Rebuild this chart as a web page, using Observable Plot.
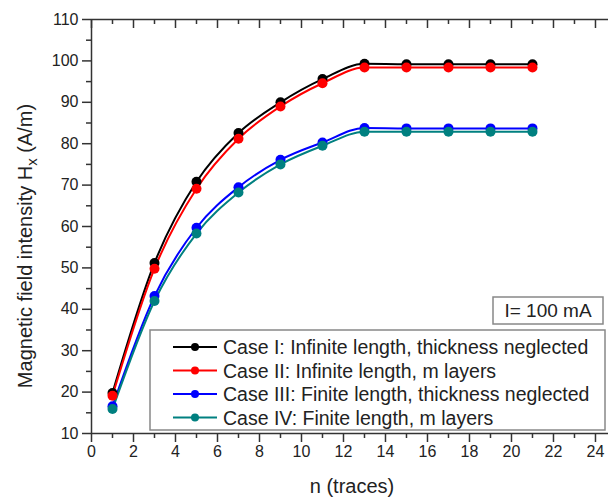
<!DOCTYPE html>
<html><head><meta charset="utf-8">
<script src="https://cdn.jsdelivr.net/npm/d3@7"></script>
<script src="https://cdn.jsdelivr.net/npm/@observablehq/plot@0.6"></script>
<style>body{margin:0;background:#fff} svg{display:block}</style>
</head><body><div id="chart"></div>
<script>
const nTraces = [1, 3, 5, 7, 9, 11, 13, 15, 17, 19, 21];
const case1 = [19.8, 51.2, 70.8, 82.6, 90.0, 95.6, 99.3, 99.2, 99.2, 99.2, 99.2];
const case2 = [19.1, 49.8, 69.1, 81.2, 89.0, 94.6, 98.4, 98.4, 98.4, 98.4, 98.4];
const case3 = [16.6, 43.2, 59.7, 69.5, 76.1, 80.3, 83.8, 83.7, 83.7, 83.7, 83.7];
const case4 = [15.9, 42.0, 58.3, 68.2, 75.0, 79.5, 82.9, 82.9, 82.9, 82.9, 82.9];
const seriesNames = [
  "Case I: Infinite length, thickness neglected",
  "Case II: Infinite length, m layers",
  "Case III: Finite length, thickness neglected",
  "Case IV: Finite length, m layers"
];
const seriesColors = ["#000000", "#ff0000", "#0000ff", "#008080"];
const xMajor = [0, 2, 4, 6, 8, 10, 12, 14, 16, 18, 20, 22, 24];
const xMinor = [1, 3, 5, 7, 9, 11, 13, 15, 17, 19, 21, 23];
const yMajor = [10, 20, 30, 40, 50, 60, 70, 80, 90, 100, 110];
const yMinor = [15, 25, 35, 45, 55, 65, 75, 85, 95, 105];
const xTitle = "n (traces)";
const yTitleMain = "Magnetic field intensity H";
const yTitleSub = "x";
const yTitleUnit = " (A/m)";
const note = "I= 100 mA";

const allSeries = [case1, case2, case3, case4];
const data = allSeries.flatMap((s, k) => nTraces.map((n, i) => ({n, v: s[i], series: seriesNames[k]})));
const font = "'Liberation Sans', Arial, sans-serif";
const axisColor = "#333";

const chart = Plot.plot({
  width: 608, height: 500,
  marginLeft: 91, marginRight: 0, marginTop: 19, marginBottom: 67,
  x: {domain: [0, 24.62]},
  y: {domain: [10, 110]},
  color: {domain: seriesNames, range: seriesColors},
  style: {fontFamily: font, fontSize: "16px", color: "#222", background: "#fff"},
  marks: [
    Plot.axisY(yMajor, {tickSize: 9, tickPadding: 4, fontSize: 16, label: null, stroke: axisColor, strokeWidth: 1.5}),
    Plot.axisY(yMinor, {tickSize: 5, tickFormat: () => "", label: null, stroke: axisColor, strokeWidth: 1.5}),
    Plot.axisX(xMajor, {tickSize: 9, tickPadding: 3, fontSize: 16, label: null, stroke: axisColor, strokeWidth: 1.5}),
    Plot.axisX(xMinor, {tickSize: 5, tickFormat: () => "", label: null, stroke: axisColor, strokeWidth: 1.5}),
    Plot.tickX(xMajor, {x: d => d, insetBottom: 414 - 9, stroke: axisColor, strokeWidth: 1.5}),
    Plot.tickX(xMinor, {x: d => d, insetBottom: 414 - 5, stroke: axisColor, strokeWidth: 1.5}),
    Plot.ruleY([10, 110], {stroke: axisColor, strokeWidth: 1.5}),
    Plot.ruleX([0], {stroke: axisColor, strokeWidth: 1.5}),
    Plot.line(data, {x: "n", y: "v", z: "series", stroke: "series", strokeWidth: 2, curve: "monotone-x"}),
    Plot.dot(data, {x: "n", y: "v", fill: "series", r: 5})
  ]
});
document.getElementById("chart").append(chart);

const svg = d3.select(chart);
// axis titles
svg.append("text").attr("x", 352).attr("y", 493).attr("text-anchor", "middle")
  .attr("font-family", font).attr("font-size", 20).attr("fill", "#222").text(xTitle);
const yt = svg.append("text").attr("transform", "translate(32,246) rotate(-90)")
  .attr("text-anchor", "middle").attr("font-family", font).attr("font-size", 20).attr("fill", "#222");
yt.append("tspan").text(yTitleMain);
yt.append("tspan").attr("dy", 5).attr("font-size", 15).text(yTitleSub);
yt.append("tspan").attr("dy", -5).text(yTitleUnit);

// annotation box
svg.append("rect").attr("x", 493).attr("y", 297).attr("width", 110).attr("height", 27)
  .attr("fill", "#fff").attr("stroke", "#888").attr("stroke-width", 1.5);
svg.append("text").attr("x", 548).attr("y", 317).attr("text-anchor", "middle")
  .attr("font-family", font).attr("font-size", 19).attr("fill", "#222").text(note);

// legend
const lg = svg.append("g");
lg.append("rect").attr("x", 150).attr("y", 330).attr("width", 455).attr("height", 100)
  .attr("fill", "#fff").attr("stroke", "#888").attr("stroke-width", 1.5);
seriesNames.forEach((name, k) => {
  const cy = 347 + k * 23.5;
  lg.append("line").attr("x1", 173).attr("x2", 217).attr("y1", cy).attr("y2", cy)
    .attr("stroke", seriesColors[k]).attr("stroke-width", 2);
  lg.append("circle").attr("cx", 195).attr("cy", cy).attr("r", 4).attr("fill", seriesColors[k]);
  lg.append("text").attr("x", 223).attr("y", cy + 7).attr("text-anchor", "start").attr("font-family", font)
    .attr("font-size", 19.5).attr("fill", "#222").text(name);
});
</script>
</body></html>
